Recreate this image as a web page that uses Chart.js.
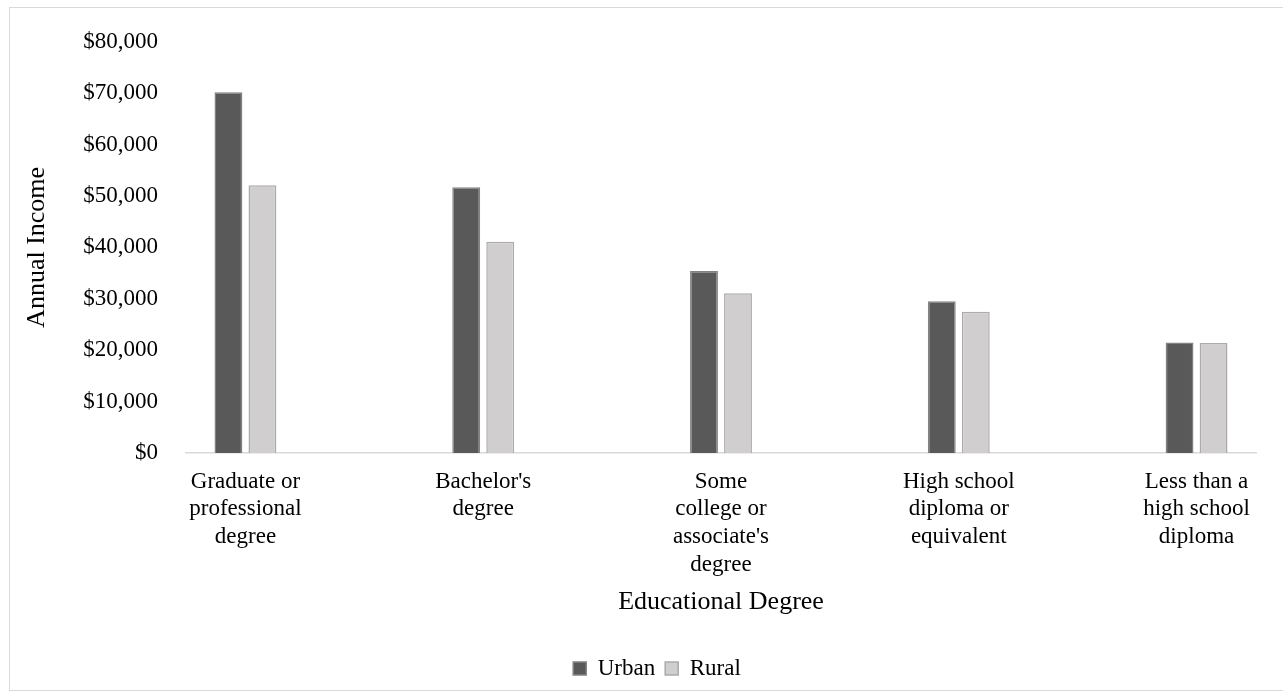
<!DOCTYPE html>
<html>
<head>
<meta charset="utf-8">
<script src="https://cdn.jsdelivr.net/npm/chart.js@4/dist/chart.umd.min.js"></script>
<style>
  html,body{margin:0;padding:0;background:#fff;}
  #wrap{position:relative;width:1283px;height:698px;overflow:hidden;}
  #frame{position:absolute;left:9px;top:7px;width:1300px;height:684px;border:1.5px solid #d9d9d9;box-sizing:border-box;}
  canvas{position:absolute;left:0;top:0;}
</style>
</head>
<body>
<div id="wrap">
  <div id="frame"></div>
  <canvas id="c" width="1283" height="698"></canvas>
</div>
<script>
// data
const categories = [
  ['Graduate or', 'professional', 'degree'],
  ["Bachelor's", 'degree'],
  ['Some', 'college or', "associate's", 'degree'],
  ['High school', 'diploma or', 'equivalent'],
  ['Less than a', 'high school', 'diploma']
];
const urban = [70200, 51700, 35400, 29500, 21500];
const rural = [52100, 41100, 31100, 27500, 21400];
const yTicks = { min: 0, max: 80000, step: 10000 };

const font = 'Liberation Serif, Times New Roman, serif';
const pts = (arr) => arr.map((v, i) => ({ x: i, y: v }));

// legend in the reference sits a bit right of the canvas center
const legendShift = {
  id: 'legendShift',
  afterLayout(chart) {
    const lg = chart.legend;
    if (!lg) return;
    lg.left += 19; lg.right += 19;
    if (lg.legendHitBoxes) lg.legendHitBoxes.forEach(b => { b.left += 19; });
  }
};

new Chart(document.getElementById('c'), {
  type: 'bar',
  data: {
    datasets: [
      { label: 'Urban', data: pts(urban), backgroundColor: '#595959', borderColor: '#828282', borderWidth: 1.5 },
      { label: 'Rural', data: pts(rural), backgroundColor: '#d0cece', borderColor: '#ababab', borderWidth: 1.5 }
    ]
  },
  plugins: [legendShift],
  options: {
    responsive: false,
    animation: false,
    categoryPercentage: 0.286,
    barPercentage: 0.82,
    layout: { padding: { left: 20, top: 34, right: 27, bottom: 8 } },
    plugins: {
      tooltip: { enabled: false },
      legend: {
        position: 'bottom',
        labels: {
          color: '#000',
          font: { family: font, size: 23 },
          boxWidth: 13, boxHeight: 13, padding: 10
        }
      }
    },
    scales: {
      x: {
        type: 'linear',
        min: -0.25, max: 4.25,
        offset: false,
        grid: { display: false, offset: false, drawTicks: false },
        border: { display: true, color: '#d9d9d9', width: 1.5 },
        afterBuildTicks: (s) => { s.ticks = categories.map((c, i) => ({ value: i })); },
        afterFit: (s) => { s.height = 194; },
        ticks: {
          autoSkip: false, maxRotation: 0, padding: 15,
          color: '#000', font: { family: font, size: 23, lineHeight: 1.2 },
          callback: (v) => categories[v] || ''
        },
        title: {
          display: true, text: 'Educational Degree', color: '#000',
          font: { family: font, size: 26 }, padding: { top: 4, bottom: 29 }
        }
      },
      y: {
        min: yTicks.min, max: yTicks.max,
        grid: { display: false, drawTicks: false },
        border: { display: false },
        afterFit: (s) => { s.width = 166; },
        ticks: {
          stepSize: yTicks.step, padding: 28, color: '#000',
          font: { family: font, size: 23 },
          callback: (v) => '$' + v.toLocaleString('en-US')
        },
        title: {
          display: true, text: 'Annual Income', color: '#000',
          font: { family: font, size: 26 }, padding: { top: 2, bottom: 0 }
        }
      }
    }
  }
});
</script>
</body>
</html>
